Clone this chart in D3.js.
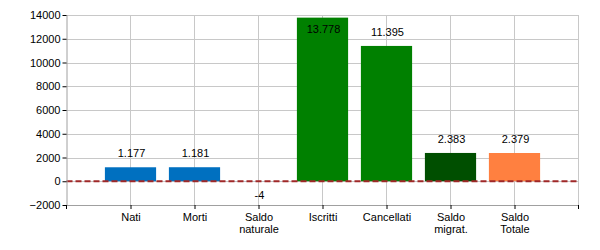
<!DOCTYPE html>
<html><head><meta charset="utf-8">
<script src="https://cdn.jsdelivr.net/npm/d3@7"></script>
<style>body{margin:0;background:#fff}svg{display:block}text{font-family:"Liberation Sans",Arial,sans-serif}</style>
</head><body><svg id="c" width="600" height="250"></svg>
<script>
const categories = ["Nati", "Morti", "Saldo\nnaturale", "Iscritti", "Cancellati", "Saldo\nmigrat.", "Saldo\nTotale"];
const values = [1177, 1181, -4, 13778, 11395, 2383, 2379];
const labels = ["1.177", "1.181", "-4", "13.778", "11.395", "2.383", "2.379"];
const colors = ["#0070C0", "#0070C0", "#0070C0", "#008000", "#008000", "#004F00", "#FF8040"];
const yTicks = [-2000, 0, 2000, 4000, 6000, 8000, 10000, 12000, 14000];

const svg = d3.select("#c");
const L = 66.5, R = 578.5, T = 15, B = 205;
const x = d3.scalePoint().domain(categories).range([L, R]).padding(1);
const y = d3.scaleLinear().domain([-2000, 14000]).range([B, T]);
const bw = x.step() * 0.8;

// grid
const g = svg.append("g");
g.selectAll("line.h").data(yTicks).join("line")
  .attr("x1", L).attr("x2", R).attr("y1", d => Math.round(y(d)) + 0.5).attr("y2", d => Math.round(y(d)) + 0.5)
  .attr("stroke", "#c8c8c8").attr("stroke-width", 1);
g.selectAll("line.v").data(categories.map(c => x(c)).concat([R])).join("line")
  .attr("x1", d => Math.round(d - 0.5) + 0.5).attr("x2", d => Math.round(d - 0.5) + 0.5)
  .attr("y1", T).attr("y2", B).attr("stroke", "#c8c8c8").attr("stroke-width", 1);

// bars
svg.selectAll("rect.bar").data(values).join("rect")
  .attr("x", (d, i) => x(categories[i]) - bw / 2)
  .attr("width", bw)
  .attr("y", d => y(Math.max(0, d)))
  .attr("height", d => Math.abs(y(d) - y(0)))
  .attr("fill", (d, i) => colors[i]);

// zero dashed line
svg.append("line").attr("x1", L).attr("x2", R - 2).attr("y1", y(0)).attr("y2", y(0))
  .attr("stroke", "#A02828").attr("stroke-width", 2).attr("stroke-dasharray", "6,3");

// value labels
svg.selectAll("text.val").data(values).join("text")
  .attr("x", (d, i) => x(categories[i]) + 1)
  .attr("y", d => {
    if (d < 0) return y(0) + 18;
    if (y(d) - 10 < T + 8) return y(d) + 15;
    return y(d) - 10;
  })
  .attr("text-anchor", "middle").attr("font-size", 11).attr("fill", "#000")
  .text((d, i) => labels[i]);

// y axis
const ya = svg.append("g").attr("transform", `translate(${L},0)`)
  .call(d3.axisLeft(y).tickValues(yTicks).tickSize(4).tickFormat(d3.format("d")));
ya.select(".domain").attr("stroke", "#a0a0a0").attr("d", `M0.5,${T}V${B}`);
ya.selectAll(".tick line").attr("stroke", "#000");
ya.selectAll(".tick text").attr("font-size", 11).attr("fill", "#000").attr("x", -6)
  .style("font-family", '"Liberation Sans",Arial,sans-serif');

// x axis
const xa = svg.append("g").attr("transform", `translate(0,${B})`)
  .call(d3.axisBottom(x).tickSize(4).tickSizeOuter(0).tickFormat(""));
xa.select(".domain").attr("stroke", "#a0a0a0");
xa.selectAll(".tick line").attr("stroke", "#000");
[L, R].forEach(px => xa.append("line").attr("x1", px).attr("x2", px).attr("y1", 0).attr("y2", 4).attr("stroke", "#000"));
xa.selectAll(".tick").each(function(d) {
  const parts = d.split("\n");
  const t = d3.select(this).append("text").attr("fill", "#000").attr("font-size", 11)
    .attr("text-anchor", "middle").attr("y", 15.5)
    .style("font-family", '"Liberation Sans",Arial,sans-serif');
  parts.forEach((p, i) => t.append("tspan").attr("x", 0).attr("dy", i === 0 ? 0 : 12.5).text(p));
});
</script></body></html>
